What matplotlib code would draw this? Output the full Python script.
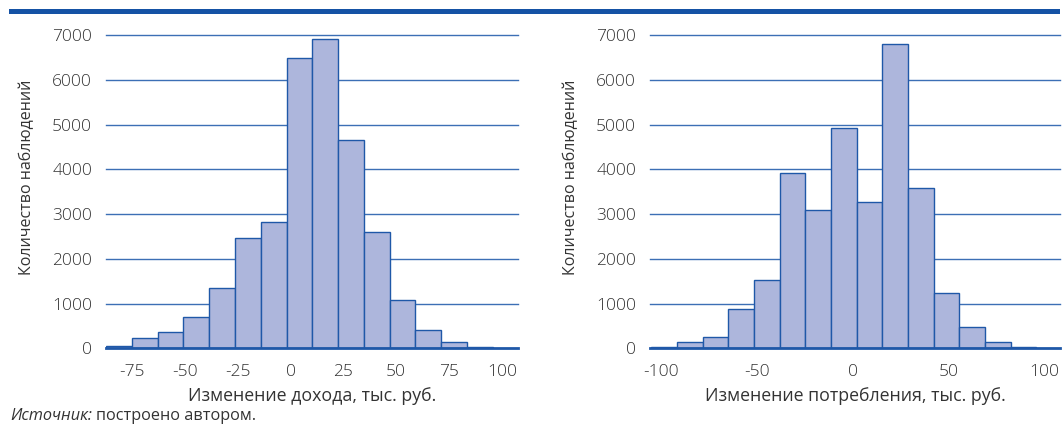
import matplotlib
matplotlib.use("Agg")
import matplotlib.pyplot as plt
import numpy as np

plt.rcParams['font.family'] = ['Open Sans', 'DejaVu Sans']
plt.rcParams['font.weight'] = 'light'

# ---- data ----
income_edges = [-87.3, -75.1, -62.9, -50.7, -38.5, -26.3, -14.1, -1.9,
                10.3, 22.5, 34.7, 46.9, 59.1, 71.3, 83.5, 95.7]
income_counts = [60, 240, 375, 690, 1340, 2465, 2815, 6480,
                 6905, 4650, 2590, 1080, 405, 150, 25]
income_ticks = [-75, -50, -25, 0, 25, 50, 75, 100]

cons_edges = [-105.4, -92.0, -78.5, -65.1, -51.7, -38.3, -24.8, -11.4,
              2.0, 15.4, 28.9, 42.3, 55.7, 69.1, 82.6, 96.0]
cons_counts = [25, 138, 257, 875, 1525, 3920, 3095, 4930,
               3275, 6790, 3590, 1230, 465, 132, 20]
cons_ticks = [-100, -50, 0, 50, 100]

y_ticks = [0, 1000, 2000, 3000, 4000, 5000, 6000, 7000]
ylabel = "Количество наблюдений"
xlabel_income = "Изменение дохода, тыс. руб."
xlabel_cons = "Изменение потребления, тыс. руб."

# ---- style ----
FILL = '#adb6dc'
EDGE = '#1f58a8'
GRID = '#3c6fb5'
TEXT = '#333333'
BAND = '#1552a5'

W, H = 1062, 426
fig = plt.figure(figsize=(W / 100, H / 100), dpi=100)

def px_axes(x0, x1, y0, y1):
    return fig.add_axes([x0 / W, 1 - y1 / H, (x1 - x0) / W, (y1 - y0) / H])

def draw(ax, edges, counts, ticks, xlim, xlabel):
    edges = np.asarray(edges)
    ax.bar(edges[:-1], counts, width=np.diff(edges), align='edge',
           color=FILL, edgecolor=EDGE, linewidth=1.0, zorder=3)
    ax.set_xlim(*xlim)
    ax.set_ylim(0, 7000)
    ax.set_yticks(y_ticks)
    ax.set_xticks(ticks)
    ax.set_xticklabels([str(t) for t in ticks])
    for s in ax.spines.values():
        s.set_visible(False)
    for v in y_ticks[1:]:
        ax.axhline(v, color=GRID, lw=1.0, zorder=1, clip_on=False)
    ax.axhline(0, color=EDGE, lw=2.0, zorder=4, clip_on=False)
    ax.tick_params(axis='both', length=0, labelsize=12.5, labelcolor=TEXT)
    ax.tick_params(axis='y', pad=10)
    ax.tick_params(axis='x', pad=11)
    ax.set_ylabel(ylabel, fontsize=11.5, color=TEXT)
    ax.set_xlabel(xlabel, fontsize=12.8, color=TEXT, labelpad=5)

ax1 = px_axes(106, 518, 35, 348.3)
draw(ax1, income_edges, income_counts, income_ticks, (-87.3, 107.6), xlabel_income)
ax1.yaxis.set_label_coords(-0.173, 0.547)

ax2 = px_axes(650, 1060, 35, 348.3)
draw(ax2, cons_edges, cons_counts, cons_ticks, (-106.0, 108.3), xlabel_cons)
ax2.yaxis.set_label_coords(-0.173, 0.547)

# top band
fig.add_artist(plt.Rectangle((9 / W, 1 - 14 / H), (1060 - 9) / W, 5 / H,
                             transform=fig.transFigure, color=BAND, lw=0))

# source line
t1 = fig.text(10 / W, 1 - 416 / H, "Источник:", fontsize=11.7, style='italic',
              weight='normal', color=TEXT, va='center', ha='left')
fig.canvas.draw()
bb = t1.get_window_extent(renderer=fig.canvas.get_renderer())
fig.text(bb.x1 / W + 4 / W, 1 - 416 / H, "построено автором.", fontsize=11.7,
         weight='normal', color=TEXT, va='center', ha='left')

fig.savefig("out.png", dpi=100)
